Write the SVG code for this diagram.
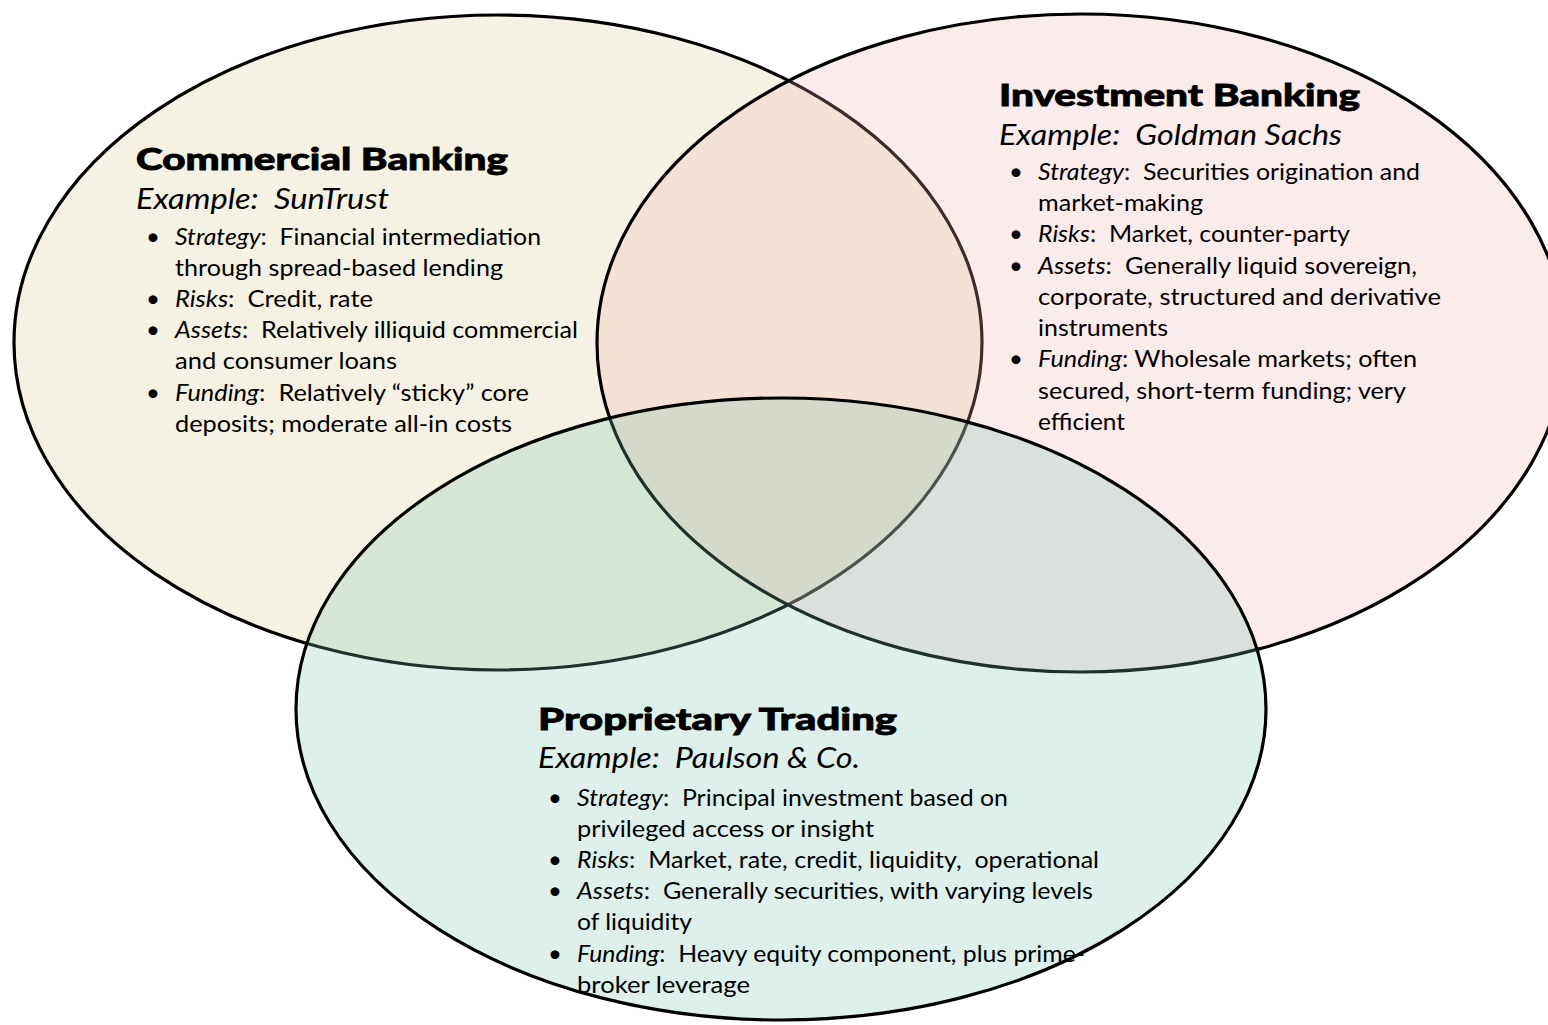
<svg xmlns="http://www.w3.org/2000/svg" width="1548" height="1025" viewBox="0 0 1548 1025">
<style>
  .ring { stroke: #000; stroke-width: 3.2; }
  text { font-family: Lato, "Open Sans", "Liberation Sans", sans-serif; fill: #000; white-space: pre; }
  .title { font-size: 31px; font-weight: 900; stroke: #000; stroke-width: 0.8; }
  .ex { font-size: 29px; font-style: italic; }
  .b { font-size: 24px; }
  .i { font-style: italic; }
  .dot { font-size: 24px; text-anchor: middle; }
</style>
<rect x="0" y="0" width="1548" height="1025" fill="#fff"/>

<g id="commercial-banking">
  <ellipse class="ring" cx="498" cy="342.5" rx="484" ry="327.5" fill="#F6F2E3"/>
  <text class="title" x="136" y="170" textLength="372" lengthAdjust="spacingAndGlyphs">Commercial Banking</text>
  <text class="ex" x="136" y="209" textLength="253" lengthAdjust="spacingAndGlyphs">Example:  SunTrust</text>
  <text class="dot" x="153" y="245">•</text>
  <text class="b" x="175" y="245" textLength="366" lengthAdjust="spacingAndGlyphs"><tspan class="i">Strategy</tspan>:  Financial intermediation</text>
  <text class="b" x="175" y="276" textLength="328" lengthAdjust="spacingAndGlyphs">through spread-based lending</text>
  <text class="dot" x="153" y="307">•</text>
  <text class="b" x="175" y="307" textLength="198" lengthAdjust="spacingAndGlyphs"><tspan class="i">Risks</tspan>:  Credit, rate</text>
  <text class="dot" x="153" y="338">•</text>
  <text class="b" x="175" y="338" textLength="403" lengthAdjust="spacingAndGlyphs"><tspan class="i">Assets</tspan>:  Relatively illiquid commercial</text>
  <text class="b" x="175" y="369" textLength="222" lengthAdjust="spacingAndGlyphs">and consumer loans</text>
  <text class="dot" x="153" y="401">•</text>
  <text class="b" x="175" y="401" textLength="354" lengthAdjust="spacingAndGlyphs"><tspan class="i">Funding</tspan>:  Relatively “sticky” core</text>
  <text class="b" x="175" y="432" textLength="337" lengthAdjust="spacingAndGlyphs">deposits; moderate all-in costs</text>
</g>

<g id="investment-banking">
  <ellipse class="ring" cx="1081" cy="343" rx="484" ry="329" fill="rgb(239,175,175)" fill-opacity="0.25"/>
  <text class="title" x="999" y="106" textLength="361" lengthAdjust="spacingAndGlyphs">Investment Banking</text>
  <text class="ex" x="999" y="145" textLength="343" lengthAdjust="spacingAndGlyphs">Example:  Goldman Sachs</text>
  <text class="dot" x="1016" y="180">•</text>
  <text class="b" x="1038" y="180" textLength="382" lengthAdjust="spacingAndGlyphs"><tspan class="i">Strategy</tspan>:  Securities origination and</text>
  <text class="b" x="1038" y="211" textLength="165" lengthAdjust="spacingAndGlyphs">market-making</text>
  <text class="dot" x="1016" y="242">•</text>
  <text class="b" x="1038" y="242" textLength="312" lengthAdjust="spacingAndGlyphs"><tspan class="i">Risks</tspan>:  Market, counter-party</text>
  <text class="dot" x="1016" y="274">•</text>
  <text class="b" x="1038" y="274" textLength="379" lengthAdjust="spacingAndGlyphs"><tspan class="i">Assets</tspan>:  Generally liquid sovereign,</text>
  <text class="b" x="1038" y="305" textLength="403" lengthAdjust="spacingAndGlyphs">corporate, structured and derivative</text>
  <text class="b" x="1038" y="336" textLength="130" lengthAdjust="spacingAndGlyphs">instruments</text>
  <text class="dot" x="1016" y="367">•</text>
  <text class="b" x="1038" y="367" textLength="379" lengthAdjust="spacingAndGlyphs"><tspan class="i">Funding</tspan>: Wholesale markets; often</text>
  <text class="b" x="1038" y="399" textLength="368" lengthAdjust="spacingAndGlyphs">secured, short-term funding; very</text>
  <text class="b" x="1038" y="430" textLength="87" lengthAdjust="spacingAndGlyphs">efficient</text>
</g>

<g id="proprietary-trading">
  <ellipse class="ring" cx="781" cy="709" rx="485" ry="311" fill="rgb(120,196,176)" fill-opacity="0.25"/>
  <text class="title" x="538" y="730" textLength="359" lengthAdjust="spacingAndGlyphs">Proprietary Trading</text>
  <text class="ex" x="538" y="768" textLength="322" lengthAdjust="spacingAndGlyphs">Example:  Paulson &amp; Co.</text>
  <text class="dot" x="555" y="806">•</text>
  <text class="b" x="577" y="806" textLength="431" lengthAdjust="spacingAndGlyphs"><tspan class="i">Strategy</tspan>:  Principal investment based on</text>
  <text class="b" x="577" y="837" textLength="297" lengthAdjust="spacingAndGlyphs">privileged access or insight</text>
  <text class="dot" x="555" y="868">•</text>
  <text class="b" x="577" y="868" textLength="522" lengthAdjust="spacingAndGlyphs"><tspan class="i">Risks</tspan>:  Market, rate, credit, liquidity,  operational</text>
  <text class="dot" x="555" y="899">•</text>
  <text class="b" x="577" y="899" textLength="516" lengthAdjust="spacingAndGlyphs"><tspan class="i">Assets</tspan>:  Generally securities, with varying levels</text>
  <text class="b" x="577" y="930" textLength="115" lengthAdjust="spacingAndGlyphs">of liquidity</text>
  <text class="dot" x="555" y="962">•</text>
  <text class="b" x="577" y="962" textLength="508" lengthAdjust="spacingAndGlyphs"><tspan class="i">Funding</tspan>:  Heavy equity component, plus prime-</text>
  <text class="b" x="577" y="993" textLength="173" lengthAdjust="spacingAndGlyphs">broker leverage</text>
</g>
</svg>
